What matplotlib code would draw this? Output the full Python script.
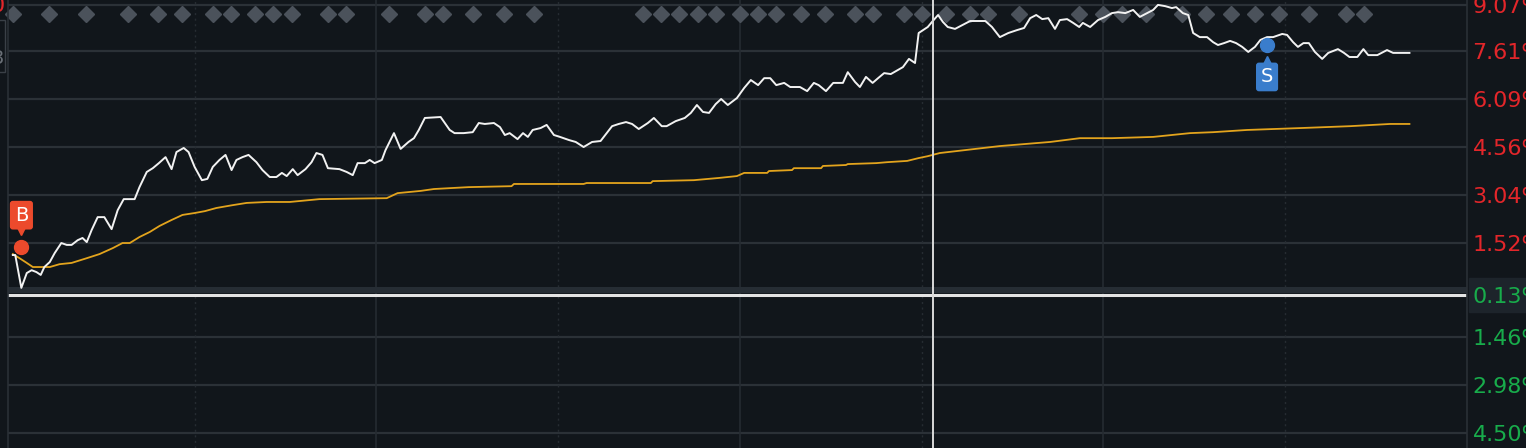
import numpy as np
import matplotlib
matplotlib.use("Agg")
import matplotlib.pyplot as plt
import matplotlib.transforms as mtransforms
from matplotlib.patches import Rectangle

plt.rcParams['font.family'] = ['DejaVu Sans']

# minutes since open (0..240) and % change
price_min = [0, 0.4, 1.4, 2.3, 3.1, 3.9, 4.6, 5.2, 6.1, 6.9, 8.0, 8.9, 9.7, 10.7, 11.5, 12.2,
             13.0, 14.0, 15.1, 16.3, 17.3, 18.3, 20.1, 20.9, 22.1, 23.1, 24.1, 25.2, 26.2,
             27.0, 28.2, 29.0, 30.0, 31.2, 32.1, 33.0, 34.1, 35.1, 36.1, 36.9, 37.9, 38.9,
             40.2, 41.2, 42.4, 43.5, 44.4, 45.2, 46.2, 47.0, 48.3, 49.3, 50.1, 51.1, 52.0,
             53.9, 55.1, 56.1, 56.9, 58.1, 58.9, 59.7, 60.9, 61.5, 62.9, 64.0, 65.3, 66.2,
             67.0, 68.0, 70.6, 72.1, 72.9, 74.4, 75.9, 76.9, 77.9, 79.4, 80.4, 81.2, 82.0,
             83.3, 84.2, 85.0, 85.8, 87.1, 88.1, 89.3, 90.3, 91.8, 92.9, 94.2, 95.6, 97.0,
             98.9, 100.0, 101.2, 102.2, 103.3, 104.8, 105.8, 107.1, 107.9, 109.4, 110.9,
             111.9, 112.9, 113.9, 114.9, 116.0, 116.9, 118.0, 119.5, 120.7, 121.8, 123.0,
             124.0, 125.0, 126.0, 127.3, 128.3, 129.9, 131.1, 132.2, 133.0, 134.2, 135.4,
             137.0, 137.8, 139.0, 139.8, 140.8, 141.9, 142.8, 143.8, 144.9, 146.1, 146.9,
             147.9, 148.9, 149.5, 150.2, 151.0, 151.7, 152.7, 153.5, 154.3, 155.5, 156.7,
             158.0, 160.5, 161.6, 162.9, 164.3, 165.7, 166.9, 167.9, 168.9, 169.9, 170.9,
             172.0, 172.8, 174.0, 175.0, 176.0, 176.6, 177.8, 179.1, 180.3, 181.4, 182.4,
             183.6, 184.9, 186.0, 187.2, 188.2, 189.0, 190.2, 191.3, 192.0, 193.1, 194.0,
             194.8, 195.9, 197.1, 198.1, 198.9, 199.9, 200.9, 201.9, 202.9, 203.9, 205.0,
             205.9, 207.0, 208.0, 209.5, 210.3, 211.3, 212.1, 213.0, 213.9, 214.9, 216.1,
             217.1, 218.7, 219.7, 220.6, 221.9, 222.9, 223.7, 225.2, 226.8, 227.8, 229.0,
             230.5]
price_pct = [1.14, 1.14, 0.10, 0.57, 0.66, 0.60, 0.51, 0.76, 0.92, 1.20, 1.52, 1.46, 1.46,
             1.61, 1.68, 1.55, 1.93, 2.34, 2.34, 1.96, 2.56, 2.91, 2.91, 3.29, 3.77, 3.89,
             4.05, 4.24, 3.86, 4.40, 4.53, 4.40, 3.93, 3.51, 3.55, 3.93, 4.15, 4.31, 3.83,
             4.15, 4.24, 4.31, 4.08, 3.83, 3.61, 3.61, 3.74, 3.64, 3.86, 3.67, 3.86, 4.08,
             4.37, 4.31, 3.89, 3.86, 3.77, 3.67, 4.05, 4.05, 4.15, 4.05, 4.15, 4.46, 5.00,
             4.50, 4.72, 4.84, 5.10, 5.48, 5.51, 5.10, 5.00, 5.00, 5.03, 5.32, 5.29, 5.32,
             5.19, 4.94, 5.00, 4.81, 5.00, 4.88, 5.10, 5.16, 5.26, 4.94, 4.88, 4.78, 4.72,
             4.56, 4.72, 4.75, 5.22, 5.29, 5.35, 5.29, 5.13, 5.32, 5.48, 5.22, 5.22, 5.38,
             5.48, 5.64, 5.89, 5.67, 5.64, 5.92, 6.08, 5.89, 6.11, 6.43, 6.68, 6.52, 6.74,
             6.74, 6.52, 6.59, 6.46, 6.46, 6.33, 6.59, 6.52, 6.33, 6.59, 6.59, 6.93, 6.62,
             6.46, 6.78, 6.59, 6.74, 6.90, 6.87, 7.00, 7.09, 7.35, 7.22, 8.17, 8.26, 8.36,
             8.52, 8.74, 8.52, 8.36, 8.30, 8.42, 8.55, 8.55, 8.36, 8.04, 8.17, 8.26, 8.33,
             8.64, 8.74, 8.61, 8.64, 8.30, 8.58, 8.61, 8.49, 8.36, 8.49, 8.36, 8.58, 8.68,
             8.80, 8.83, 8.80, 8.90, 8.68, 8.80, 8.90, 9.06, 9.02, 8.96, 8.99, 8.80, 8.74,
             8.17, 8.04, 8.04, 7.88, 7.79, 7.85, 7.92, 7.85, 7.73, 7.57, 7.73, 7.95, 8.04,
             8.04, 8.14, 8.11, 7.88, 7.73, 7.85, 7.85, 7.57, 7.35, 7.54, 7.66, 7.54, 7.41,
             7.41, 7.66, 7.47, 7.47, 7.63, 7.54, 7.54, 7.54]

avg_min = [0, 1.1, 2.3, 3.3, 6.1, 7.7, 9.7, 12.2, 14.3, 16.5, 18.1, 19.3, 20.9, 22.6, 24.2,
           26.2, 28.0, 30.0, 31.7, 33.6, 36.3, 38.6, 41.9, 45.7, 50.6, 61.7, 63.5, 67.3,
           69.5, 75.2, 82.3, 82.7, 94.2, 94.7, 105.3, 105.6, 112.4, 116.5, 119.5, 120.7,
           124.5, 124.8, 128.6, 128.9, 133.4, 133.7, 137.5, 137.8, 142.5, 144.3, 147.6,
           149.5, 151.0, 153.0, 162.9, 171.2, 176.1, 181.4, 188.2, 194.3, 198.1, 203.7,
           212.5, 220.7, 227.3, 230.5]
avg_pct = [1.17, 1.04, 0.89, 0.76, 0.76, 0.85, 0.89, 1.04, 1.17, 1.36, 1.52, 1.52, 1.71,
           1.87, 2.06, 2.25, 2.41, 2.47, 2.53, 2.63, 2.72, 2.79, 2.82, 2.82, 2.91, 2.94,
           3.10, 3.17, 3.23, 3.29, 3.32, 3.39, 3.39, 3.42, 3.42, 3.48, 3.51, 3.58, 3.64,
           3.74, 3.74, 3.80, 3.83, 3.89, 3.89, 3.96, 3.99, 4.02, 4.05, 4.08, 4.12, 4.21,
           4.27, 4.37, 4.59, 4.72, 4.84, 4.84, 4.88, 5.00, 5.03, 5.10, 5.16, 5.22, 5.29,
           5.29]

# event markers along the top
event_min = [0, 6, 12, 19, 24, 28, 33, 36, 40, 43, 46, 52, 55, 62, 68, 71, 76, 81, 86,
             104, 107, 110, 113, 116, 120, 123, 126, 130, 134, 139, 142, 147, 150, 154,
             158, 161, 166, 176, 180, 183, 187, 193, 197, 201, 205, 209, 214, 220, 223]

buy_point = (1.3, 1.39)
sell_point = (207.0, 7.79)
cursor_min = 151.9

tick_vals = [9.07, 7.61, 6.09, 4.56, 3.04, 1.52, -0.13, -1.46, -2.98, -4.50]
tick_labels = ['9.07%', '7.61%', '6.09%', '4.56%', '3.04%', '1.52%', '0.13%', '1.46%',
               '2.98%', '4.50%']

bg = '#11161b'
grid_c = '#2b3137'
red = '#e3262a'
green = '#18ac4b'

fig = plt.figure(figsize=(15.26, 4.48), dpi=100, facecolor=bg)
W, H = 1526, 448

# label highlight box for the base line (behind the axes)
fig.patches.append(Rectangle((1469 / W, 136 / H), 60 / W, 34 / H,
                             transform=fig.transFigure, color='#1d242b', zorder=-1))

ax = fig.add_axes([8 / W, 0, (1467 - 8) / W, 1])
ax.patch.set_alpha(0)
ax.set_xlim(-0.8, 240)
ax.set_ylim(-4.97, 9.215)
fig.patches.append(Rectangle((8 / W, 0), (1467 - 8) / W, 1, transform=fig.transFigure,
                             color=bg, zorder=-2))

for v in tick_vals:
    if v != -0.13:
        ax.axhline(v, color=grid_c, lw=1.6, zorder=1)
for m in [60, 120, 180]:
    ax.axvline(m, color='#252b31', lw=1.2, zorder=1)
for m in [30, 90, 150, 210]:
    ax.axvline(m, color='#262c32', lw=1.0, ls=(0, (1.5, 2.5)), zorder=1)

ax.axhspan(-0.06, 0.12, color='#262d34', lw=0, zorder=1)
ax.axhline(-0.12, color='#e4e4e4', lw=2.2, zorder=2)

ev_trans = mtransforms.blended_transform_factory(ax.transData, ax.transAxes)
ax.plot(event_min, [1 - 14 / H] * len(event_min), 'D', color='#4b525b', ms=8,
        transform=ev_trans, zorder=2, clip_on=False)

ax.plot(avg_min, avg_pct, color='#e3a41d', lw=1.3, zorder=3)
ax.plot(price_min, price_pct, color='#f2f2f2', lw=1.4, zorder=4)

ax.axvline(cursor_min, color='#d9d9d9', lw=1.4, zorder=5)

# buy / sell markers
ax.plot(*buy_point, 'o', color='#ec4a2c', ms=10, zorder=6)
ax.annotate('B', xy=buy_point, xytext=(0.5, 23), textcoords='offset points',
            ha='center', va='center', color='white', fontsize=14, zorder=7,
            bbox=dict(boxstyle='round,pad=0.25,rounding_size=0.15', fc='#ec4a2c', ec='none'))
tri = mtransforms.offset_copy(ax.transData, fig=fig, x=0.5, y=11.5, units='points')
ax.plot(*buy_point, 'v', color='#ec4a2c', ms=6, transform=tri, zorder=7)

ax.plot(*sell_point, 'o', color='#3a7dcc', ms=10, zorder=6)
ax.annotate('S', xy=sell_point, xytext=(0, -23), textcoords='offset points',
            ha='center', va='center', color='white', fontsize=14, zorder=7,
            bbox=dict(boxstyle='round,pad=0.25,rounding_size=0.15', fc='#3a7dcc', ec='none'))
tri2 = mtransforms.offset_copy(ax.transData, fig=fig, x=0, y=-11, units='points')
ax.plot(*sell_point, '^', color='#3a7dcc', ms=6, transform=tri2, zorder=7)

# right axis labels
ax.yaxis.tick_right()
ax.set_yticks(tick_vals)
ax.set_yticklabels(tick_labels)
ax.tick_params(axis='y', length=0, pad=4, labelsize=16)
ax.set_xticks([])
for lab, v in zip(ax.get_yticklabels(), tick_vals):
    lab.set_color(red if v > 0 else green)

for s in ['top', 'bottom']:
    ax.spines[s].set_visible(False)
for s in ['left', 'right']:
    ax.spines[s].set_color('#2a3036')
    ax.spines[s].set_linewidth(1.2)

# clipped left axis remnants
fig.text(5 / W, 1 - 6 / H, '0', color=red, fontsize=16, ha='right', va='center')
fig.patches.append(Rectangle((-20 / W, 1 - 72 / H), 25 / W, 52 / H, transform=fig.transFigure,
                             fc='none', ec='#3a4047', lw=1.0))
fig.text(4 / W, 1 - 58 / H, '3', color='#6a7077', fontsize=14, ha='right', va='center')

fig.savefig('out.png', dpi=100, facecolor=bg)
